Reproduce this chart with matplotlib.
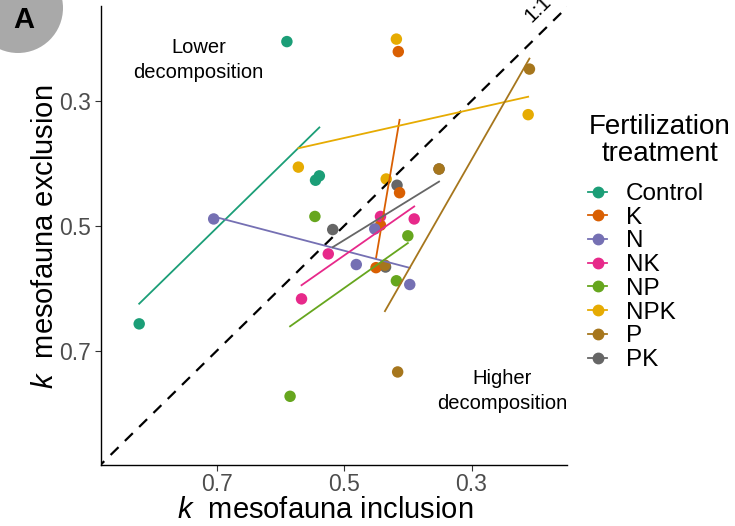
import numpy as np
import matplotlib
matplotlib.use("Agg")
import matplotlib.pyplot as plt
from matplotlib.lines import Line2D
from matplotlib.patches import Ellipse

plt.rcParams['font.family'] = ['Liberation Sans', 'DejaVu Sans']
plt.rcParams['mathtext.fontset'] = 'custom'
plt.rcParams['mathtext.rm'] = 'Liberation Sans'
plt.rcParams['mathtext.it'] = 'Liberation Sans:italic'

# k values (x = mesofauna inclusion, y = mesofauna exclusion)
treatments = ['Control', 'K', 'N', 'NK', 'NP', 'NPK', 'P', 'PK']
colors = ['#1B9E77', '#D95F02', '#7570B3', '#E7298A',
          '#66A61E', '#E6AB02', '#A6761D', '#666666']

control_x = [0.590, 0.822, 0.545, 0.539]
control_y = [0.205, 0.657, 0.427, 0.420]
k_x = [0.415, 0.413, 0.450, 0.443]
k_y = [0.221, 0.447, 0.567, 0.499]
n_x = [0.705, 0.452, 0.481, 0.397]
n_y = [0.489, 0.505, 0.562, 0.594]
nk_x = [0.567, 0.525, 0.443, 0.390]
nk_y = [0.617, 0.545, 0.485, 0.489]
np_x = [0.585, 0.546, 0.400, 0.418]
np_y = [0.773, 0.485, 0.516, 0.588]
npk_x = [0.418, 0.211, 0.572, 0.434]
npk_y = [0.201, 0.322, 0.406, 0.425]
p_x = [0.209, 0.351, 0.436, 0.416]
p_y = [0.249, 0.409, 0.563, 0.734]
pk_x = [0.518, 0.417, 0.351, 0.435]
pk_y = [0.506, 0.435, 0.409, 0.566]

data = {
    'Control': (control_x, control_y),
    'K': (k_x, k_y),
    'N': (n_x, n_y),
    'NK': (nk_x, nk_y),
    'NP': (np_x, np_y),
    'NPK': (npk_x, npk_y),
    'P': (p_x, p_y),
    'PK': (pk_x, pk_y),
}
col = dict(zip(treatments, colors))
draw_order = ['Control', 'NPK', 'PK', 'K', 'NK', 'N', 'NP', 'P']

fig = plt.figure(figsize=(7.35, 5.26), dpi=100)
ax = fig.add_axes([101 / 735, 1 - 465 / 526, 466 / 735, 459 / 526])

# points
for t in draw_order:
    x, y = data[t]
    ax.scatter(x, y, s=68, color=col[t], edgecolors='none', zorder=3)

# 1:1 line
lims = np.array([0.10, 0.95])
ax.plot(lims, lims, color='black', lw=1.6, ls=(0, (5, 4)), zorder=4)

# linear fits per treatment
for t in treatments:
    x, y = np.array(data[t][0]), np.array(data[t][1])
    b, a = np.polyfit(x, y, 1)
    xs = np.array([x.min(), x.max()])
    ax.plot(xs, a + b * xs, color=col[t], lw=1.3, zorder=5)

ax.set_xlim(0.882, 0.150)
ax.set_ylim(0.883, 0.148)
ax.set_xticks([0.7, 0.5, 0.3])
ax.set_yticks([0.3, 0.5, 0.7])
ax.tick_params(labelsize=16.5, labelcolor='#4D4D4D', color='#333333',
               length=4, width=0.8)
ax.tick_params(axis='x', pad=2)
for s in ['top', 'right']:
    ax.spines[s].set_visible(False)
for s in ['left', 'bottom']:
    ax.spines[s].set_linewidth(1.0)

ax.set_xlabel(r'$k$  mesofauna inclusion', fontsize=21)
ax.set_ylabel(r'$k$  mesofauna exclusion', fontsize=21)
ax.xaxis.set_label_coords((325 - 101) / 466, -(510 - 465) / 459, transform=ax.transAxes)
ax.yaxis.set_label_coords(-(101 - 45) / 466, (465 - 237) / 459, transform=ax.transAxes)
ax.xaxis.label.set_va('center')
ax.yaxis.label.set_va('center')

ax.text(0.729, 0.234, 'Lower\ndecomposition', fontsize=14.5,
        ha='center', va='center', linespacing=1.4)
ax.text(0.252, 0.764, 'Higher\ndecomposition', fontsize=14.5,
        ha='center', va='center', linespacing=1.4)
ax.text(0.195, 0.152, '1:1', fontsize=15, rotation=44.4,
        ha='center', va='center', rotation_mode='anchor')

handles = [Line2D([], [], color=col[t], marker='o', markersize=7.5, lw=1.3)
           for t in treatments]
leg = fig.legend(handles, treatments, loc='upper left',
                 bbox_to_anchor=(588 / 735, 1 - 183 / 526),
                 frameon=False, fontsize=17.5, borderpad=0, borderaxespad=0,
                 handlelength=0.8, handletextpad=0.75, labelspacing=0.07)
fig.text(660 / 735, 1 - 140 / 526, 'Fertilization\ntreatment', fontsize=20,
         ha='center', va='center', multialignment='center', linespacing=1.05)

# panel tag
fig.patches.append(Ellipse((18 / 735, 1 - 8 / 526), 90 / 735, 90 / 526,
                           transform=fig.transFigure,
                           facecolor='#A9A9A9', edgecolor='none'))
fig.text(24 / 735, 1 - 20 / 526, 'A', fontsize=21, fontweight='bold',
         ha='center', va='center')

fig.savefig('out.png', dpi=100)
